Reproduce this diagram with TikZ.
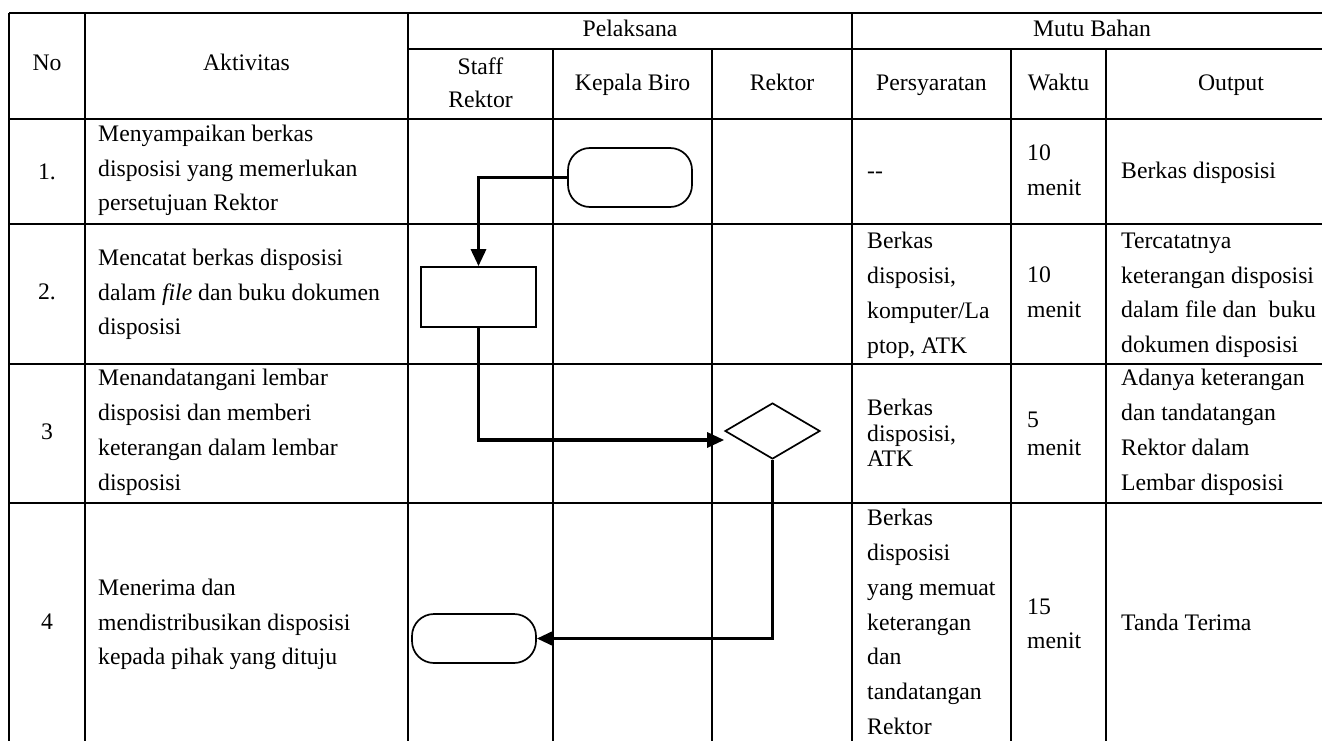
\documentclass[tikz,border=0pt]{standalone}
\usepackage{fontspec}
\setmainfont{Liberation Serif}
\usetikzlibrary{arrows.meta,shapes.geometric}
\tikzset{
  gridline/.style={line width=2.2pt},
  conn/.style={line width=3.2pt,-{Triangle[length=17pt,width=15pt]}},
  term/.style={draw,line width=1.7pt,rectangle,rounded corners=22pt,inner sep=0pt,minimum width=124pt},
  proc/.style={draw,line width=1.7pt,rectangle,inner sep=0pt,minimum width=115pt,minimum height=60pt},
  dec/.style={draw,line width=1.7pt,diamond,inner sep=0pt,minimum width=95pt,minimum height=56pt},
  lt/.style={font=\fontsize{23.7}{34.7}\selectfont,align=left,inner sep=0pt,anchor=west,yshift=-4pt,
    execute at begin node=\strut,execute at end node=\strut},
  ct/.style={font=\fontsize{23.7}{33}\selectfont,align=center,inner sep=0pt,
    execute at begin node=\strut,execute at end node=\strut}
}
\begin{document}
\begin{tikzpicture}[x=1pt,y=-1pt]
\clip (0,0) rectangle (1322,741);
\fill[white] (0,0) rectangle (1322,741);
% grid
\draw[gridline] (9,13) -- (1340,13);
\draw[gridline] (408,49) -- (1340,49);
\draw[gridline] (9,119) -- (1340,119);
\draw[gridline] (9,224) -- (1340,224);
\draw[gridline] (9,364) -- (1340,364);
\draw[gridline] (9,503) -- (1340,503);
\draw[gridline] (9,13) -- (9,750);
\draw[gridline] (85,13) -- (85,750);
\draw[gridline] (408,13) -- (408,750);
\draw[gridline] (553,49) -- (553,750);
\draw[gridline] (712,49) -- (712,750);
\draw[gridline] (852,13) -- (852,750);
\draw[gridline] (1011,49) -- (1011,750);
\draw[gridline] (1106,49) -- (1106,750);
% headers
\node[ct] (hno) at (47,64) {No};
\node[ct] (hakt) at (246.5,64) {Aktivitas};
\node[ct] (hpel) at (630,30) {Pelaksana};
\node[ct] (hmutu) at (1092,30) {Mutu Bahan};
\node[ct] (hstaff) at (480.5,88) {Staff\\Rektor};
\node[ct] (hkb) at (632.5,84) {Kepala Biro};
\node[ct] (hrek) at (782,84) {Rektor};
\node[ct] (hpers) at (931.5,84) {Persyaratan};
\node[ct] (hwak) at (1058.5,84) {Waktu};
\node[ct] (hout) at (1231,84) {Output};
% numbers
\node[ct] (n1) at (47,173) {1.};
\node[ct] (n2) at (47,293) {2.};
\node[ct] (n3) at (47,433) {3};
\node[ct] (n4) at (47,623) {4};
% activities
\node[lt] (a1) at (98,169) {Menyampaikan berkas\\disposisi yang memerlukan\\persetujuan Rektor};
\node[lt] (a2) at (98,293) {Mencatat berkas disposisi\\dalam \textit{file} dan buku dokumen\\disposisi};
\node[lt] (a3) at (98,431) {Menandatangani lembar\\disposisi dan memberi\\keterangan dalam lembar\\disposisi};
\node[lt] (a4) at (98,623) {Menerima dan\\mendistribusikan disposisi\\kepada pihak yang dituju};
% persyaratan
\node[lt] (p1) at (867,168) {{-}{-}};
\node[lt] (p2) at (867,294) {Berkas\\disposisi,\\komputer/La\\ptop, ATK};
\node[lt,font=\fontsize{23.7}{25.5}\selectfont] (p3) at (867,433) {Berkas\\disposisi,\\ATK};
\node[lt] (p4) at (867,623) {Berkas\\disposisi\\yang memuat\\keterangan\\dan\\tandatangan\\Rektor};
% waktu
\node[lt] (w1) at (1027,171) {10\\menit};
\node[lt] (w2) at (1027,293) {10\\menit};
\node[lt,font=\fontsize{23.7}{28}\selectfont] (w3) at (1027,434) {5\\menit};
\node[lt] (w4) at (1027,625) {15\\menit};
% output
\node[lt] (o1) at (1121,168) {Berkas disposisi};
\node[lt] (o2) at (1121,294) {Tercatatnya\\keterangan disposisi\\dalam file dan\ \ buku\\dokumen disposisi};
\node[lt] (o3) at (1121,431) {Adanya keterangan\\dan tandatangan\\Rektor dalam\\Lembar disposisi};
\node[lt] (o4) at (1121,620) {Tanda Terima};
% flow shapes
\node[term,minimum height=59pt] (t1) at (630,177.5) {};
\node[proc] (r2) at (478.5,297) {};
\node[dec] (d3) at (772.5,431) {};
\node[term,minimum height=49pt] (t4) at (474,638.5) {};
% connectors
\draw[conn] (t1.west) -| (r2.north);
\draw[conn] (r2.south) |- ([yshift=-9pt]d3.west);
\draw[conn] (d3.south) |- (t4.east);
\end{tikzpicture}
\end{document}
